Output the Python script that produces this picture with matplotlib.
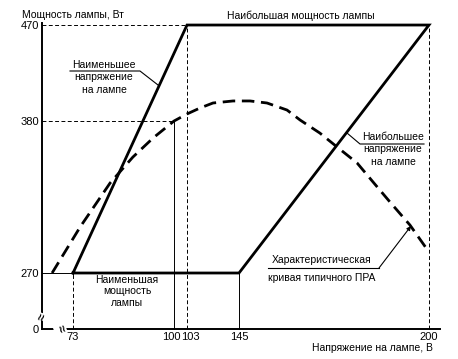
import numpy as np
import matplotlib
matplotlib.use("Agg")
import matplotlib.pyplot as plt
from matplotlib.lines import Line2D
import matplotlib.transforms as mtransforms

plt.rcParams['font.family'] = ['Liberation Sans', 'DejaVu Sans']

# ---- data ----
# operating trapezoid (lamp voltage, V ; lamp power, W)
trap_volt = [73, 103, 200, 145, 73]
trap_power = [270, 470, 470, 270, 270]
# typical ballast characteristic curve
curve_volt = [67.4, 74.9, 82.9, 89.0, 94.4, 100, 103, 113.5, 124.0, 140.2, 148.2, 153.1,
              158.9, 162.7, 168.4, 173.4, 179.2, 183.8, 188.7, 194.5, 200]
curve_power = [270, 303.3, 335.1, 353.9, 367.7, 380, 386.6, 392.2, 396.9, 398.8, 398.8, 396.9,
               390.3, 380.9, 371.3, 361.2, 349.6, 335.9, 321.4, 304.7, 285.2]
x_ticks = [73, 100, 103, 145, 200]
x_ticklabels = ['73', '100', '103', '145', '200']
y_ticks = [0, 270, 380, 470]
y_ticklabels = ['0', '270', '380', '470']

W, H = 458, 359
fig = plt.figure(figsize=(W / 100, H / 100), dpi=100)

# schematic (piecewise linear) axis scales
xs_d = [0, 73, 100, 103, 145, 200, 1000]
xs_p = [73 - 73 * 3.74, 73, 174, 187, 239, 429, 429 + 800 * 3.45]
ys_d = [-1000, 0, 270, 380, 470, 1000]
ys_p = [-(329 + 1000 * 56 / 270), -329, -273, -121, -25, -(25 - 530 * 1.067)]

def xf(v):
    return np.interp(v, xs_d, xs_p)

def xi(v):
    return np.interp(v, xs_p, xs_d)

def yf(v):
    return np.interp(v, ys_d, ys_p)

def yi(v):
    return np.interp(v, ys_p, ys_d)

ax = fig.add_axes([42 / W, 1 - 329 / H, (440 - 42) / W, (329 - 23) / H])
ax.set_xscale('function', functions=(xf, xi))
ax.set_yscale('function', functions=(yf, yi))
ax.set_xlim(64.7, 203.2)
ax.set_ylim(0, 471.9)

for s in ['top', 'right']:
    ax.spines[s].set_visible(False)
for s in ['left', 'bottom']:
    ax.spines[s].set_linewidth(1.4)

# thin guide lines
thin = dict(color='black', lw=0.7, clip_on=False)
dash = (0, (4, 2.5))
ax.plot([64.7, 73], [270, 270], **thin)
ax.plot([64.7, 100], [380, 380], ls=dash, **thin)
ax.plot([64.7, 103], [470, 470], ls=dash, **thin)
ax.plot([73, 73], [0, 270], ls=dash, **thin)
ax.plot([100, 100], [0, 380], **thin)
ax.plot([103, 103], [0, 470], ls=dash, **thin)
ax.plot([145, 145], [0, 270], **thin)
ax.plot([200, 200], [0, 470], ls=dash, **thin)

# trapezoid
ax.plot(trap_volt, trap_power, color='black', lw=2.0, solid_joinstyle='miter', clip_on=False)
# characteristic curve
ax.plot(curve_volt, curve_power, color='black', lw=2.0, ls=(0, (4.5, 2.4)),
        dash_capstyle='butt', dash_joinstyle='round', clip_on=False)

# ticks
ax.set_xticks(x_ticks)
ax.set_xticklabels(x_ticklabels)
ax.set_yticks(y_ticks)
ax.set_yticklabels(y_ticklabels)
ax.tick_params(length=0, labelsize=8, pad=2)
ax.minorticks_off()
offs = {'100': -3, '103': 3}
for lab in ax.get_xticklabels():
    t = lab.get_text()
    if t in offs:
        lab.set_transform(lab.get_transform() +
                          mtransforms.ScaledTranslation(offs[t] / 100, 0, fig.dpi_scale_trans))

def fx(p):
    return p / W

def fy(p):
    return 1 - p / H

fs = 7.5
fig.text(fx(22), fy(15), 'Мощность лампы, Вт', fontsize=fs, va='center', ha='left')
fig.text(fx(301), fy(16), 'Наибольшая мощность лампы', fontsize=fs, va='center', ha='center')
fig.text(fx(433), fy(348), 'Напряжение на лампе, В', fontsize=fs, va='center', ha='right')

# Наименьшее напряжение на лампе
for i, t in enumerate(['Наименьшее', 'напряжение', 'на лампе']):
    fig.text(fx(104), fy(65 + 12.3 * i), t, fontsize=fs, ha='center', va='center')
fig.add_artist(Line2D([fx(70), fx(140), fx(158)], [fy(71), fy(71), fy(85)], color='black', lw=0.8))

# Наибольшее напряжение на лампе
for i, t in enumerate(['Наибольшее', 'напряжение', 'на лампе']):
    fig.text(fx(393), fy(137 + 12.5 * i), t, fontsize=fs, ha='center', va='center')
fig.add_artist(Line2D([fx(347), fx(360), fx(424)], [fy(133), fy(144), fy(144)], color='black', lw=0.8))

# Наименьшая мощность лампы
for i, t in enumerate(['Наименьшая', 'мощность', 'лампы']):
    fig.text(fx(127), fy(280 + 11.5 * i), t, fontsize=fs, ha='center', va='center')

# Характеристическая кривая
fig.text(fx(322), fy(260), 'Характеристическая', fontsize=fs, ha='center', va='center')
fig.text(fx(322), fy(278), 'кривая типичного ПРА', fontsize=fs, ha='center', va='center')
fig.add_artist(Line2D([fx(268), fx(379)], [fy(268), fy(268)], color='black', lw=0.8))
ax.annotate('', xy=(fx(411), fy(226)), xycoords='figure fraction',
            xytext=(fx(379), fy(268)), textcoords='figure fraction',
            arrowprops=dict(arrowstyle='-|>', color='black', lw=0.8,
                            mutation_scale=6, shrinkA=0, shrinkB=0))

# axis breaks
fig.text(fx(42.5), fy(317), '≈', fontsize=9, ha='center', va='center', rotation=70,
         fontweight='bold', bbox=dict(fc='white', ec='none', pad=0.2))
fig.text(fx(60), fy(329), '≈', fontsize=9, ha='center', va='center', rotation=-70,
         fontweight='bold', bbox=dict(fc='white', ec='none', pad=0.2))

fig.savefig('out.png', dpi=100)
